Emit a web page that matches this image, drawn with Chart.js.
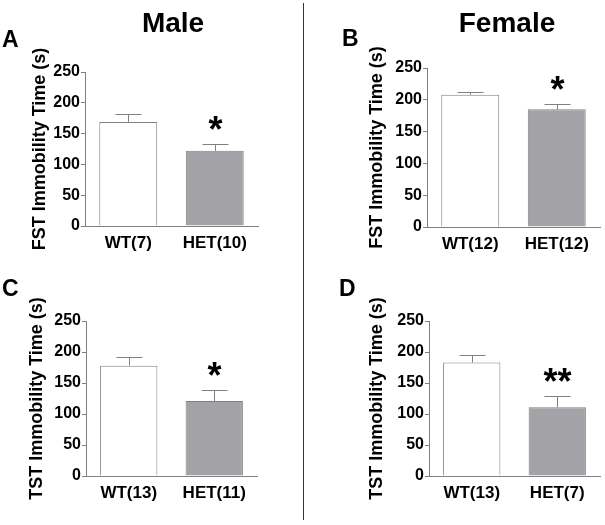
<!DOCTYPE html>
<html>
<head>
<meta charset="utf-8">
<script src="https://cdn.jsdelivr.net/npm/chart.js@4"></script>
<style>
  body { margin: 0; background: #fff; }
  #wrap { position: relative; width: 605px; height: 525px; overflow: hidden; font-family: 'Liberation Sans', Arial, sans-serif; }
  .panel { position: absolute; width: 300px; height: 260px; }
  .txt { position: absolute; font-weight: bold; color: #000; line-height: 1; white-space: nowrap; }
  #divider { position: absolute; left: 303px; top: 3px; width: 1px; height: 517px; background: #333; }
</style>
</head>
<body>
<div id="wrap">
  <div class="panel" style="left:0;top:0"><canvas id="chartA"></canvas></div>
  <div class="panel" style="left:305px;top:0"><canvas id="chartB"></canvas></div>
  <div class="panel" style="left:0;top:260px"><canvas id="chartC"></canvas></div>
  <div class="panel" style="left:305px;top:260px"><canvas id="chartD"></canvas></div>
  <div id="divider"></div>
  <div class="txt" style="left:108px;top:9px;width:130px;text-align:center;font-size:28px">Male</div>
  <div class="txt" style="left:442px;top:9px;width:130px;text-align:center;font-size:28px">Female</div>
  <div class="txt" style="left:2px;top:28px;font-size:23px">A</div>
  <div class="txt" style="left:342px;top:27px;font-size:23px">B</div>
  <div class="txt" style="left:2px;top:277px;font-size:23px">C</div>
  <div class="txt" style="left:339px;top:277px;font-size:23px">D</div>
</div>
<script>
// data
const labelsA = ['WT(7)', 'HET(10)'];
const meanA = [169, 122];
const semA = [13, 11];
const starsA = ['', '*'];

const labelsB = ['WT(12)', 'HET(12)'];
const meanB = [208, 185];
const semB = [4, 9];
const starsB = ['', '*'];

const labelsC = ['WT(13)', 'HET(11)'];
const meanC = [178, 121];
const semC = [14, 18];
const starsC = ['', '*'];

const labelsD = ['WT(13)', 'HET(7)'];
const meanD = [183, 111];
const semD = [12, 18];
const starsD = ['', '**'];

const yTicks = [0, 50, 100, 150, 200, 250];

const FONT = "'Liberation Sans', Arial, sans-serif";
const GRAY = '#808080';

// error bars (upper only) + significance stars
const errorBarPlugin = {
    id: 'errorBars',
    afterDatasetsDraw(chart, args, opts) {
        const ctx = chart.ctx;
        const yScale = chart.scales.y;
        const meta = chart.getDatasetMeta(0);
        ctx.save();
        ctx.strokeStyle = GRAY;
        ctx.lineWidth = 1;
        meta.data.forEach((bar, i) => {
            const yTop = yScale.getPixelForValue(opts.mean[i]);
            const yCap = yScale.getPixelForValue(opts.mean[i] + opts.sem[i]);
            const x = Math.round(bar.x) + 0.5;
            ctx.beginPath();
            ctx.moveTo(x, yTop);
            ctx.lineTo(x, Math.round(yCap) + 0.5);
            ctx.moveTo(x - 13, Math.round(yCap) + 0.5);
            ctx.lineTo(x + 13, Math.round(yCap) + 0.5);
            ctx.stroke();
            if (opts.stars[i]) {
                ctx.fillStyle = '#000';
                ctx.font = 'bold 36px ' + FONT;
                ctx.textAlign = 'center';
                ctx.textBaseline = 'alphabetic';
                const m = ctx.measureText(opts.stars[i]);
                const h = m.actualBoundingBoxAscent - m.actualBoundingBoxDescent;
                const cy = yCap - 9;
                ctx.fillText(opts.stars[i], x, cy + m.actualBoundingBoxAscent - h / 2);
            }
        });
        ctx.restore();
    }
};

function makeChart(id, labels, mean, sem, stars, title, box) {
    new Chart(document.getElementById(id), {
        type: 'bar',
        data: {
            labels: labels,
            datasets: [{
                data: mean,
                backgroundColor: ['#ffffff', '#a3a3a7'],
                borderColor: GRAY,
                borderWidth: 1,
                barPercentage: 0.67,
                categoryPercentage: 1.0
            }]
        },
        options: {
            responsive: true,
            maintainAspectRatio: false,
            animation: false,
            layout: { padding: { left: 0, top: box.top, right: box.right, bottom: 0 } },
            plugins: {
                legend: { display: false },
                tooltip: { enabled: false },
                errorBars: { mean: mean, sem: sem, stars: stars }
            },
            scales: {
                x: {
                    grid: { display: false, drawTicks: false },
                    border: { display: true, color: GRAY, width: 1 },
                    ticks: { color: '#000', padding: 7, font: { family: FONT, size: 17, weight: 'bold' } },
                    afterFit(s) { s.height = box.xh; }
                },
                y: {
                    min: 0,
                    max: 250,
                    afterBuildTicks(s) { s.ticks = yTicks.map(v => ({ value: v })); },
                    grid: { drawOnChartArea: false, drawTicks: true, tickLength: 4, color: GRAY },
                    border: { display: true, color: GRAY, width: 1 },
                    ticks: { color: '#000', padding: 1, font: { family: FONT, size: 16, weight: 'bold' } },
                    title: {
                        display: true,
                        text: title,
                        color: '#000',
                        font: { family: FONT, size: 18, weight: 'bold' },
                        padding: { top: box.tpad, bottom: 0 }
                    },
                    afterFit(s) { s.width = box.yw; }
                }
            }
        },
        plugins: [errorBarPlugin]
    });
}

makeChart('chartA', labelsA, meanA, semA, starsA, 'FST Immobility Time (s)', { top: 72, right: 42, xh: 34, yw: 85, tpad: 29 });
makeChart('chartB', labelsB, meanB, semB, starsB, 'FST Immobility Time (s)', { top: 68, right: 5, xh: 33, yw: 122, tpad: 61 });
makeChart('chartC', labelsC, meanC, semC, starsC, 'TST Immobility Time (s)', { top: 61, right: 43, xh: 44, yw: 86, tpad: 26 });
makeChart('chartD', labelsD, meanD, semD, starsD, 'TST Immobility Time (s)', { top: 61, right: 5, xh: 44, yw: 124, tpad: 61 });
</script>
</body>
</html>
